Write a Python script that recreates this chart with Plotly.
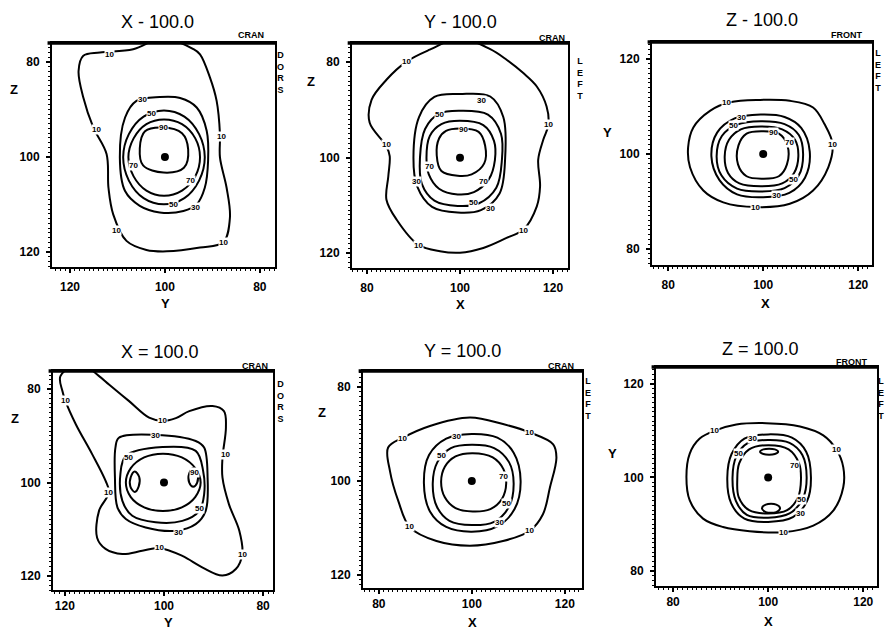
import plotly.graph_objects as go

# ---------------- DATA ----------------
LEVELS = [10, 30, 50, 70, 90]
CENTER_U = [100.0]
CENTER_V = [100.0]
TICK_VALS = [80, 90, 100, 110, 120]
TICK_TEXT = ["80", "", "100", "", "120"]
MINOR_TICKS = list(range(76, 125))

# Panel 1 : X = 100.0 (horizontal Y, vertical Z)
P1_C10_U = [100.4, 94.0, 92.6, 90.5, 89.1, 88.4, 88.4, 87.0, 86.3, 87.7, 92.6, 99.6, 103.9, 108.1, 110.9, 111.9, 112.3, 115.1, 117.2, 118.2, 117.2, 113.7, 106.7]
P1_C10_V = [75.0, 77.3, 78.4, 83.3, 88.2, 95.2, 100.1, 106.5, 112.8, 118.0, 119.1, 119.9, 119.6, 117.7, 112.1, 106.5, 99.4, 93.8, 87.5, 81.9, 78.7, 78.0, 77.3]
P1_C30_U = [101.1, 106.0, 108.4, 109.5, 108.4, 105.3, 101.1, 96.1, 93.3, 91.6, 90.9, 91.2, 93.3, 96.8]
P1_C30_V = [87.4, 88.2, 91.7, 100.1, 107.2, 110.3, 111.7, 111.4, 110.0, 106.5, 100.8, 94.5, 89.6, 87.6]
P1_C50_U = [100.2, 104.5, 107.6, 108.8, 107.6, 104.5, 100.2, 95.9, 92.8, 91.6, 92.8, 95.9]
P1_C50_V = [90.2, 91.5, 95.2, 100.1, 105.0, 108.7, 110.0, 108.7, 105.0, 100.1, 95.2, 91.5]
P1_C70_U = [100.2, 103.9, 106.6, 107.7, 106.6, 103.9, 100.2, 96.4, 93.6, 92.6, 93.6, 96.4]
P1_C70_V = [92.1, 93.1, 96.1, 100.1, 104.1, 107.1, 108.2, 107.1, 104.1, 100.1, 96.1, 93.1]
P1_C90_U = [100.5, 104.2, 105.3, 104.6, 100.3, 96.0, 95.1, 96.4]
P1_C90_V = [93.8, 94.6, 98.2, 101.8, 103.3, 102.3, 98.4, 95.0]
P1_LBL_U = [111.6, 114.4, 88.1, 110.2, 87.7, 104.7, 102.8, 100.4, 106.7, 94.7, 98.2, 93.5]
P1_LBL_V = [78.4, 94.2, 95.6, 115.6, 118.0, 88.0, 90.9, 93.9, 101.9, 104.9, 110.1, 110.7]
P1_LBL_T = ["10", "10", "10", "10", "10", "30", "50", "90", "70", "70", "50", "30"]

# Panel 2 : Y = 100.0 (horizontal X, vertical Z)
P2_C10_U = [100.0, 106.5, 110.0, 113.6, 116.5, 118.6, 119.0, 117.9, 116.8, 117.2, 116.5, 113.6, 110.0, 105.0, 100.0, 95.7, 91.0, 86.4, 84.2, 84.6, 84.9, 84.2, 80.6, 81.0, 84.2, 88.5, 93.5]
P2_C10_V = [75.0, 77.3, 79.5, 82.3, 85.1, 89.3, 93.1, 96.2, 100.4, 106.0, 110.2, 115.1, 116.8, 118.9, 119.9, 119.6, 118.2, 113.0, 108.8, 103.9, 99.7, 97.6, 92.7, 87.9, 83.7, 79.9, 77.4]
P2_C30_U = [100.0, 106.5, 109.3, 109.7, 108.5, 104.5, 99.5, 94.0, 90.8, 90.0, 91.2, 94.5]
P2_C30_V = [86.7, 87.2, 91.5, 100.0, 107.5, 111.0, 111.5, 110.3, 106.0, 100.0, 91.5, 87.3]
P2_C50_U = [100.0, 106.0, 108.8, 109.0, 107.8, 104.0, 99.5, 94.5, 91.8, 91.4, 92.5, 95.5]
P2_C50_V = [90.2, 91.0, 95.0, 100.5, 106.3, 109.6, 110.1, 109.0, 105.5, 100.0, 94.0, 90.8]
P2_C70_U = [100.0, 105.0, 107.3, 107.5, 106.2, 103.0, 99.5, 95.5, 93.3, 92.8, 93.5, 96.0]
P2_C70_V = [92.3, 93.2, 96.5, 100.5, 104.5, 107.2, 107.7, 106.5, 103.5, 100.0, 95.5, 93.0]
P2_C90_U = [100.0, 104.0, 105.4, 105.2, 102.5, 99.5, 96.0, 95.0, 95.5, 97.0]
P2_C90_V = [93.9, 94.6, 97.5, 101.2, 103.5, 103.8, 102.8, 99.5, 96.0, 94.4]
P2_LBL_U = [88.5, 84.2, 91.0, 113.6, 119.0, 104.7, 95.7, 100.7, 93.4, 90.7, 105.0, 102.9, 106.5]
P2_LBL_V = [79.9, 97.3, 118.4, 115.2, 93.1, 88.0, 91.0, 94.2, 101.8, 105.0, 105.0, 109.3, 110.7]
P2_LBL_T = ["10", "10", "10", "10", "10", "30", "50", "90", "70", "30", "70", "50", "30"]

# Panel 3 : Z = 100.0 (horizontal X, vertical Y)
P3_C10_U = [85.3, 88.8, 93.0, 99.3, 105.6, 110.5, 112.9, 114.6, 113.7, 110.5, 105.6, 98.6, 91.6, 87.4, 84.6, 84.2]
P3_C10_V = [105.6, 109.1, 110.9, 111.4, 111.2, 109.8, 106.3, 102.1, 97.2, 92.3, 89.5, 88.8, 89.8, 92.3, 97.2, 101.4]
P3_C30_U = [99.5, 104.5, 108.0, 109.8, 108.8, 105.5, 100.0, 94.5, 90.8, 89.1, 90.3, 94.0]
P3_C30_V = [108.3, 107.8, 105.5, 100.5, 95.0, 91.8, 90.9, 91.5, 94.5, 99.5, 104.5, 107.5]
P3_C50_U = [99.5, 104.5, 107.5, 108.4, 107.5, 104.5, 99.5, 94.5, 91.2, 90.2, 91.3, 94.5]
P3_C50_V = [106.9, 106.3, 104.0, 100.0, 95.5, 92.8, 92.1, 92.7, 95.5, 99.5, 103.8, 106.2]
P3_C70_U = [99.5, 104.0, 106.7, 107.4, 106.5, 104.0, 99.5, 95.0, 92.6, 91.9, 92.8, 95.3]
P3_C70_V = [105.8, 105.2, 103.0, 99.5, 96.0, 93.8, 93.2, 93.8, 96.0, 99.5, 103.0, 105.2]
P3_C90_U = [99.8, 103.3, 105.1, 105.0, 103.3, 99.8, 96.5, 94.7, 94.8, 96.5]
P3_C90_V = [104.8, 104.3, 101.8, 97.8, 95.3, 94.8, 95.3, 97.8, 101.8, 104.3]
P3_LBL_U = [92.3, 114.6, 98.3, 95.4, 93.7, 102.1, 105.6, 106.3, 102.8]
P3_LBL_V = [110.8, 102.1, 88.8, 107.6, 106.0, 104.5, 102.4, 94.7, 91.2]
P3_LBL_T = ["10", "10", "10", "30", "50", "90", "70", "50", "30"]

# Panel 4 : X = 100.0 (horizontal Y, vertical Z)
P4_C10_U = [117.0, 113.1, 111.1, 107.1, 103.0, 100.3, 97.6, 94.9, 90.2, 87.9, 87.5, 88.2, 88.2, 86.9, 84.8, 84.2, 85.5, 88.2, 92.2, 96.3, 101.0, 104.4, 108.4, 111.8, 113.5, 113.1, 111.1, 111.8, 114.5, 117.8, 119.9, 120.5, 120.9]
P4_C10_V = [74.5, 77.2, 79.0, 82.5, 86.1, 86.8, 86.2, 84.7, 83.6, 84.7, 88.2, 94.7, 98.9, 104.6, 110.3, 115.3, 118.5, 119.9, 118.2, 115.7, 114.0, 114.6, 115.3, 114.2, 111.8, 106.0, 102.1, 99.6, 93.9, 87.5, 82.5, 80.4, 77.2]
P4_C30_U = [109.1, 101.7, 93.6, 91.9, 91.2, 91.6, 93.6, 97.6, 103.7, 107.7, 109.4, 109.9, 109.8]
P4_C30_V = [90.4, 89.8, 91.1, 92.5, 98.9, 106.1, 108.9, 110.3, 109.6, 107.8, 105.3, 98.9, 92.5]
P4_C50_U = [107.7, 100.3, 93.6, 92.1, 91.9, 92.9, 96.3, 101.7, 106.4, 108.4, 108.8]
P4_C50_V = [94.3, 92.4, 93.2, 97.5, 102.5, 106.1, 108.2, 108.5, 107.1, 103.9, 98.2]
P4_C70_U = [100.2, 104.0, 106.7, 107.7, 106.7, 104.0, 100.2, 96.4, 93.7, 92.6, 93.7, 96.4]
P4_C70_V = [93.8, 94.6, 96.9, 100.0, 103.1, 105.3, 106.1, 105.3, 103.1, 100.0, 96.9, 94.6]
P4_C90A_U = [105.9, 106.7, 106.8, 105.9, 105.1, 105.0]
P4_C90A_V = [97.6, 98.8, 100.8, 102.0, 100.8, 98.8]
P4_C90B_U = [94.1, 94.9, 94.9, 94.1, 93.3, 93.3]
P4_C90B_V = [96.9, 98.0, 100.0, 100.9, 100.0, 98.0]
P4_LBL_U = [119.9, 111.1, 100.3, 87.6, 101.0, 84.2, 101.7, 107.1, 93.9, 92.9, 97.0]
P4_LBL_V = [82.5, 102.1, 86.8, 93.9, 114.0, 115.3, 89.9, 94.7, 97.9, 105.5, 110.7]
P4_LBL_T = ["10", "10", "10", "10", "10", "10", "30", "50", "90", "50", "30"]

# Panel 5 : Y = 100.0 (horizontal X, vertical Z)
P5_C10_U = [82.0, 85.2, 91.0, 99.6, 106.7, 112.5, 117.5, 118.2, 116.8, 115.3, 112.5, 106.7, 99.6, 92.4, 86.7, 84.2, 82.4]
P5_C10_V = [92.9, 90.8, 88.3, 86.5, 87.9, 89.7, 92.2, 95.0, 101.4, 107.1, 110.6, 112.8, 113.8, 112.8, 109.9, 104.3, 97.9]
P5_C30_U = [100.0, 105.5, 109.0, 110.5, 109.2, 105.5, 100.0, 94.5, 91.0, 89.7, 90.8, 94.5]
P5_C30_V = [90.0, 90.8, 94.0, 100.0, 106.0, 109.7, 110.8, 109.8, 106.5, 100.5, 94.5, 91.0]
P5_C50_U = [100.0, 104.8, 108.0, 109.0, 108.0, 104.8, 100.0, 95.2, 92.5, 91.6, 92.6, 95.5]
P5_C50_V = [92.3, 93.0, 96.0, 100.5, 105.5, 108.7, 109.4, 108.5, 105.5, 100.5, 96.0, 93.0]
P5_C70_U = [100.2, 104.5, 106.8, 107.4, 106.5, 104.0, 100.2, 96.5, 94.2, 93.4, 94.2, 96.5]
P5_C70_V = [94.1, 95.0, 97.5, 100.5, 103.8, 106.0, 106.5, 105.8, 103.5, 100.2, 97.0, 94.8]
P5_LBL_U = [85.2, 112.5, 86.7, 112.5, 96.7, 93.5, 106.9, 107.5, 106.0]
P5_LBL_V = [90.9, 89.7, 109.8, 110.6, 90.6, 94.5, 99.0, 104.8, 108.9]
P5_LBL_T = ["10", "10", "10", "10", "30", "50", "70", "50", "30"]

# Panel 6 : Z = 100.0 (horizontal X, vertical Y)
P6_C10_U = [82.8, 83.5, 85.6, 88.8, 93.3, 99.6, 106.7, 111.6, 114.4, 115.8, 115.8, 113.7, 109.5, 103.2, 96.1, 90.5, 86.3, 83.5]
P6_C10_V = [100.1, 105.1, 108.3, 110.0, 111.3, 111.6, 110.9, 109.0, 105.9, 102.2, 97.9, 92.9, 89.7, 88.3, 88.5, 89.4, 91.2, 95.1]
P6_C30_U = [100.0, 105.0, 108.0, 109.0, 108.2, 105.2, 100.0, 95.0, 92.2, 91.4, 92.3, 95.0]
P6_C30_V = [109.2, 108.5, 105.5, 100.0, 95.0, 91.5, 90.5, 91.2, 94.5, 100.0, 105.0, 108.3]
P6_C50_U = [100.0, 104.5, 107.2, 108.1, 107.3, 104.5, 100.0, 95.5, 93.2, 92.5, 93.3, 95.6]
P6_C50_V = [108.0, 107.4, 104.8, 100.0, 95.5, 92.3, 91.4, 92.0, 95.0, 100.0, 104.5, 107.3]
P6_C70_U = [100.0, 104.3, 106.5, 106.9, 106.3, 104.0, 100.0, 96.0, 93.8, 93.5, 93.9, 96.0]
P6_C70_V = [106.9, 106.0, 103.0, 99.5, 95.8, 93.0, 92.3, 93.0, 95.8, 99.5, 103.0, 106.0]
P6_C90A_U = [98.3, 99.0, 101.4, 102.1, 101.4, 99.0]
P6_C90A_V = [105.5, 106.0, 106.0, 105.5, 105.0, 105.0]
P6_C90B_U = [98.7, 99.5, 101.7, 102.5, 101.7, 99.5]
P6_C90B_V = [93.4, 94.2, 94.2, 93.4, 92.6, 92.6]
P6_LBL_U = [88.8, 114.4, 103.2, 96.8, 93.7, 105.6, 107.0, 106.7]
P6_LBL_V = [110.0, 105.9, 88.3, 108.3, 105.2, 102.6, 95.3, 92.4]
P6_LBL_T = ["10", "10", "10", "30", "50", "70", "50", "30"]

# ---------------- LAYOUT CONFIG ----------------
W, H = 885, 630
FONT = "Liberation Sans"

PANELS = [
    dict(box=(52, 275, 43, 267), xr=[123.8, 76.8], yr=[123.2, 76.0], xstand=4,
         title="X - 100.0", title_xy=(157, 22), corner="CRAN", corner_xy=(266, 35),
         side="D<br>O<br>R<br>S", side_xy=(280, 72), xlab="Y", xlab_xy=(165, 303),
         ylab="Z", ylab_xy=(14, 90),
         curves=[(P1_C10_U, P1_C10_V), (P1_C30_U, P1_C30_V), (P1_C50_U, P1_C50_V),
                 (P1_C70_U, P1_C70_V), (P1_C90_U, P1_C90_V)],
         labels=(P1_LBL_U, P1_LBL_V, P1_LBL_T)),
    dict(box=(352, 568, 43, 268), xr=[76.8, 123.2], yr=[123.1, 76.0], xstand=4,
         title="Y - 100.0", title_xy=(460, 22), corner="CRAN", corner_xy=(567, 38),
         side="L<br>E<br>F<br>T", side_xy=(580, 78), xlab="X", xlab_xy=(460, 304),
         ylab="Z", ylab_xy=(311, 82),
         curves=[(P2_C10_U, P2_C10_V), (P2_C30_U, P2_C30_V), (P2_C50_U, P2_C50_V),
                 (P2_C70_U, P2_C70_V), (P2_C90_U, P2_C90_V)],
         labels=(P2_LBL_U, P2_LBL_V, P2_LBL_T)),
    dict(box=(652, 872, 42, 265), xr=[76.6, 122.9], yr=[76.6, 123.6], xstand=4,
         title="Z - 100.0", title_xy=(762, 20), corner="FRONT", corner_xy=(864, 35),
         side="L<br>E<br>F<br>T", side_xy=(878, 70), xlab="X", xlab_xy=(765, 303),
         ylab="Y", ylab_xy=(607, 132),
         curves=[(P3_C10_U, P3_C10_V), (P3_C30_U, P3_C30_V), (P3_C50_U, P3_C50_V),
                 (P3_C70_U, P3_C70_V), (P3_C90_U, P3_C90_V)],
         labels=(P3_LBL_U, P3_LBL_V, P3_LBL_T)),
    dict(box=(53, 273, 371, 590), xr=[122.4, 78.0], yr=[123.0, 76.1], xstand=0,
         title="X = 100.0", title_xy=(160, 352), corner="CRAN", corner_xy=(270, 366),
         side="D<br>O<br>R<br>S", side_xy=(280, 402), xlab="Y", xlab_xy=(168, 622),
         ylab="Z", ylab_xy=(15, 418),
         curves=[(P4_C10_U, P4_C10_V), (P4_C30_U, P4_C30_V), (P4_C50_U, P4_C50_V),
                 (P4_C70_U, P4_C70_V), (P4_C90A_U, P4_C90A_V), (P4_C90B_U, P4_C90B_V)],
         labels=(P4_LBL_U, P4_LBL_V, P4_LBL_T)),
    dict(box=(363, 582, 371, 588), xr=[76.6, 123.7], yr=[122.8, 76.6], xstand=0,
         title="Y = 100.0", title_xy=(462, 351), corner="CRAN", corner_xy=(576, 366),
         side="L<br>E<br>F<br>T", side_xy=(588, 398), xlab="X", xlab_xy=(472, 622),
         ylab="Z", ylab_xy=(322, 412),
         curves=[(P5_C10_U, P5_C10_V), (P5_C30_U, P5_C30_V), (P5_C50_U, P5_C50_V),
                 (P5_C70_U, P5_C70_V)],
         labels=(P5_LBL_U, P5_LBL_V, P5_LBL_T)),
    dict(box=(656, 877, 367, 586), xr=[76.4, 122.9], yr=[76.8, 123.6], xstand=0,
         title="Z = 100.0", title_xy=(760, 349), corner="FRONT", corner_xy=(869, 362),
         side="L<br>E<br>F<br>T", side_xy=(881, 398), xlab="X", xlab_xy=(768, 621),
         ylab="Y", ylab_xy=(612, 453),
         curves=[(P6_C10_U, P6_C10_V), (P6_C30_U, P6_C30_V), (P6_C50_U, P6_C50_V),
                 (P6_C70_U, P6_C70_V), (P6_C90A_U, P6_C90A_V), (P6_C90B_U, P6_C90B_V)],
         labels=(P6_LBL_U, P6_LBL_V, P6_LBL_T)),
]


def fx(px):
    return px / W


def fy(py):
    return 1 - py / H


fig = go.Figure()
layout = dict(width=W, height=H, margin=dict(l=0, r=0, t=0, b=0),
              paper_bgcolor="white", plot_bgcolor="white", showlegend=False,
              font=dict(family=FONT, color="black"))
annotations = []
shapes = []

for i, p in enumerate(PANELS):
    s = "" if i == 0 else str(i + 1)
    xa, ya = "x" + s, "y" + s
    x0, x1, y0, y1 = p["box"]
    axis_common = dict(
        tickmode="array", tickvals=TICK_VALS, ticktext=TICK_TEXT,
        ticks="outside", ticklen=4, tickwidth=1.5, tickcolor="black",
        showline=True, linecolor="black", linewidth=2, mirror=True,
        showgrid=False, zeroline=False,
        tickfont=dict(family=FONT, size=12, color="black", weight="bold"),
        minor=dict(tickmode="array", tickvals=MINOR_TICKS, ticks="outside",
                   ticklen=2, tickwidth=1, tickcolor="black", showgrid=False),
        fixedrange=True,
    )
    layout["xaxis" + s] = dict(axis_common, domain=[fx(x0), fx(x1)], range=p["xr"],
                               anchor=ya, ticklabelstandoff=p["xstand"])
    layout["yaxis" + s] = dict(axis_common, domain=[fy(y1), fy(y0)], range=p["yr"],
                               anchor=xa, ticklabelstandoff=4)

    for u, v in p["curves"]:
        fig.add_trace(go.Scatter(
            x=list(u) + [u[0]], y=list(v) + [v[0]], xaxis=xa, yaxis=ya,
            mode="lines", line=dict(color="black", width=2, shape="spline", smoothing=1.0),
            hoverinfo="skip"))
    fig.add_trace(go.Scatter(x=CENTER_U, y=CENTER_V, xaxis=xa, yaxis=ya, mode="markers",
                             marker=dict(color="black", size=8), hoverinfo="skip"))

    lu, lv, lt = p["labels"]
    for u, v, t in zip(lu, lv, lt):
        annotations.append(dict(x=u, y=v, xref=xa, yref=ya, text="<b>%s</b>" % t,
                                showarrow=False, font=dict(size=8, color="black", family=FONT),
                                bgcolor="white", borderpad=0))

    # thick top border
    shapes.append(dict(type="line", xref=xa + " domain", yref=ya + " domain",
                       x0=-0.02, x1=1.0, y0=1.0, y1=1.0,
                       line=dict(color="black", width=3.5)))

    tx, ty = p["title_xy"]
    annotations.append(dict(x=fx(tx), y=fy(ty), xref="paper", yref="paper", text=p["title"],
                            showarrow=False, xanchor="center", yanchor="middle",
                            font=dict(size=18, family=FONT, color="black")))
    cx, cy = p["corner_xy"]
    annotations.append(dict(x=fx(cx), y=fy(cy), xref="paper", yref="paper",
                            text="<b>%s</b>" % p["corner"], showarrow=False,
                            xanchor="right", yanchor="middle",
                            font=dict(size=9, family=FONT, color="black")))
    sx, sy = p["side_xy"]
    annotations.append(dict(x=fx(sx), y=fy(sy), xref="paper", yref="paper",
                            text="<b>%s</b>" % p["side"], showarrow=False,
                            xanchor="center", yanchor="middle",
                            font=dict(size=9, family=FONT, color="black")))
    lx, ly = p["xlab_xy"]
    annotations.append(dict(x=fx(lx), y=fy(ly), xref="paper", yref="paper",
                            text="<b>%s</b>" % p["xlab"], showarrow=False,
                            xanchor="center", yanchor="middle",
                            font=dict(size=13, family=FONT, color="black")))
    gx, gy = p["ylab_xy"]
    annotations.append(dict(x=fx(gx), y=fy(gy), xref="paper", yref="paper",
                            text="<b>%s</b>" % p["ylab"], showarrow=False,
                            xanchor="center", yanchor="middle",
                            font=dict(size=13, family=FONT, color="black")))

layout["annotations"] = annotations
layout["shapes"] = shapes
fig.update_layout(**layout)
fig.write_html("out.html")
